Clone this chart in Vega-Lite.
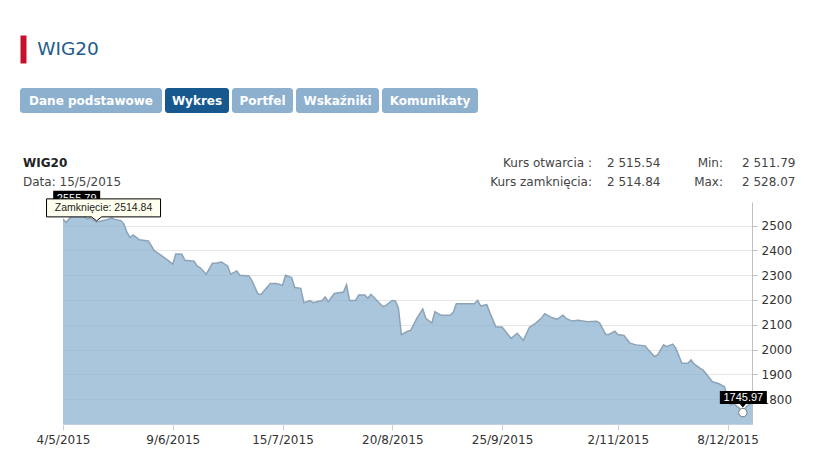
{
  "$schema": "https://vega.github.io/schema/vega-lite/v6.json",
  "padding": {"left": 20, "top": 35, "right": 0, "bottom": 0},
  "spacing": 0,
  "config": {"view": {"stroke": null}, "font": "DejaVu Sans"},
  "vconcat": [
    {
      "width": 96, "height": 53,
      "data": {"values": [{"row": "t", "name": "WIG20"}]},
      "mark": {"type": "text", "fontSize": 18.5, "color": "#245b8c", "baseline": "middle"},
      "encoding": {
        "y": {
          "field": "row", "type": "nominal",
          "scale": {"type": "band", "range": [0, 28]},
          "axis": {"orient": "left", "domainColor": "#c8102e", "domainWidth": 6, "domainCap": "butt", "offset": -3,
                   "labels": false, "ticks": false, "grid": false, "title": null}
        },
        "text": {"field": "name"}
      }
    },
    {
      "bounds": "flush",
      "spacing": 3,
      "hconcat": [
        {"width": 142, "height": 25, "view": {"fill": "#8db0cf", "cornerRadius": 3}, "data": {"values": [{"tab": "Dane podstawowe"}]},
         "mark": {"type": "text", "color": "white", "fontWeight": "bold", "fontSize": 12, "baseline": "middle"}, "encoding": {"text": {"field": "tab"}}},
        {"width": 64, "height": 25, "view": {"fill": "#17598f", "cornerRadius": 3}, "data": {"values": [{"tab": "Wykres"}]},
         "mark": {"type": "text", "color": "white", "fontWeight": "bold", "fontSize": 12, "baseline": "middle"}, "encoding": {"text": {"field": "tab"}}},
        {"width": 61, "height": 25, "view": {"fill": "#8db0cf", "cornerRadius": 3}, "data": {"values": [{"tab": "Portfel"}]},
         "mark": {"type": "text", "color": "white", "fontWeight": "bold", "fontSize": 12, "baseline": "middle"}, "encoding": {"text": {"field": "tab"}}},
        {"width": 83, "height": 25, "view": {"fill": "#8db0cf", "cornerRadius": 3}, "data": {"values": [{"tab": "Wskaźniki"}]},
         "mark": {"type": "text", "color": "white", "fontWeight": "bold", "fontSize": 12, "baseline": "middle"}, "encoding": {"text": {"field": "tab"}}},
        {"width": 96, "height": 25, "view": {"fill": "#8db0cf", "cornerRadius": 3}, "data": {"values": [{"tab": "Komunikaty"}]},
         "mark": {"type": "text", "color": "white", "fontWeight": "bold", "fontSize": 12, "baseline": "middle"}, "encoding": {"text": {"field": "tab"}}}
      ]
    },
    {
      "bounds": "flush",
      "spacing": 0,
      "hconcat": [
        {
          "width": 6, "height": 77,
          "layer": [
            {"data": {"values": [{"row": 1, "txt": "WIG20"}]},
             "mark": {"type": "text", "align": "left", "baseline": "middle", "fontWeight": "bold", "fontSize": 12, "color": "#222"},
             "encoding": {"y": {"field": "row", "type": "ordinal", "scale": {"type": "point", "padding": 0, "domain": [1, 2], "range": [50, 69]}, "axis": null}, "text": {"field": "txt"}}},
            {"data": {"values": [{"row": 2, "txt": "Data: 15/5/2015"}]},
             "mark": {"type": "text", "align": "left", "baseline": "middle", "fontSize": 12, "color": "#444"},
             "encoding": {"y": {"field": "row", "type": "ordinal", "scale": {"type": "point", "padding": 0, "domain": [1, 2], "range": [50, 69]}, "axis": null}, "text": {"field": "txt"}}}
          ]
        },
        {"width": 565, "height": 77, "data": {"values": [{}]}, "mark": {"type": "text", "text": ""}},
        {
          "width": 2, "height": 77,
          "data": {"values": [{"row": 1, "txt": "Kurs otwarcia :"}, {"row": 2, "txt": "Kurs zamknięcia:"}]},
          "mark": {"type": "text", "align": "right", "baseline": "middle", "fontSize": 12, "color": "#444"},
          "encoding": {"y": {"field": "row", "type": "ordinal", "scale": {"type": "point", "padding": 0, "domain": [1, 2], "range": [50, 69]}, "axis": null}, "text": {"field": "txt"}}
        },
        {"width": 13, "height": 77, "data": {"values": [{}]}, "mark": {"type": "text", "text": ""}},
        {
          "width": 2, "height": 77,
          "data": {"values": [{"row": 1, "txt": "2 515.54"}, {"row": 2, "txt": "2 514.84"}]},
          "mark": {"type": "text", "align": "left", "baseline": "middle", "fontSize": 12, "color": "#444"},
          "encoding": {"y": {"field": "row", "type": "ordinal", "scale": {"type": "point", "padding": 0, "domain": [1, 2], "range": [50, 69]}, "axis": null}, "text": {"field": "txt"}}
        },
        {"width": 114, "height": 77, "data": {"values": [{}]}, "mark": {"type": "text", "text": ""}},
        {
          "width": 2, "height": 77,
          "data": {"values": [{"row": 1, "txt": "Min:"}, {"row": 2, "txt": "Max:"}]},
          "mark": {"type": "text", "align": "right", "baseline": "middle", "fontSize": 12, "color": "#444"},
          "encoding": {"y": {"field": "row", "type": "ordinal", "scale": {"type": "point", "padding": 0, "domain": [1, 2], "range": [50, 69]}, "axis": null}, "text": {"field": "txt"}}
        },
        {"width": 17, "height": 77, "data": {"values": [{}]}, "mark": {"type": "text", "text": ""}},
        {
          "width": 2, "height": 77,
          "data": {"values": [{"row": 1, "txt": "2 511.79"}, {"row": 2, "txt": "2 528.07"}]},
          "mark": {"type": "text", "align": "left", "baseline": "middle", "fontSize": 12, "color": "#444"},
          "encoding": {"y": {"field": "row", "type": "ordinal", "scale": {"type": "point", "padding": 0, "domain": [1, 2], "range": [50, 69]}, "axis": null}, "text": {"field": "txt"}}
        }
      ]
    },
    {
      "bounds": "flush",
      "spacing": 0,
      "hconcat": [
        {"width": 43, "height": 222, "data": {"values": [{}]}, "mark": {"type": "text", "text": ""}},
        {
          "width": 689,
          "height": 222,
          "encoding": {
            "x": {
              "field": "date", "type": "temporal",
              "scale": {"domain": [{"year": 2015, "month": 5, "date": 4}, {"year": 2015, "month": 12, "date": 16}], "nice": false},
              "axis": {
                "title": null, "grid": false,
                "values": [
                  {"year": 2015, "month": 5, "date": 4}, {"year": 2015, "month": 6, "date": 9}, {"year": 2015, "month": 7, "date": 15},
                  {"year": 2015, "month": 8, "date": 20}, {"year": 2015, "month": 9, "date": 25}, {"year": 2015, "month": 11, "date": 2},
                  {"year": 2015, "month": 12, "date": 8}
                ],
                "format": "%-d/%-m/%Y", "labelFlush": false, "labelOverlap": false,
                "labelFontSize": 12, "labelColor": "#333", "labelPadding": 4,
                "tickColor": "#c0d0e0", "tickSize": 6, "domainColor": "#c0d0e0"
              }
            },
            "y": {
              "field": "close", "type": "quantitative",
              "scale": {"domain": [1700, 2595], "zero": false, "nice": false},
              "axis": {
                "orient": "right", "title": null,
                "values": [1800, 1900, 2000, 2100, 2200, 2300, 2400, 2500], "format": "d", "labelOverlap": false,
                "gridColor": "#e6e6e6", "domainColor": "#c0c0c0", "tickColor": "#c0c0c0", "tickSize": 5,
                "labelPadding": 4, "labelFontSize": 12, "labelColor": "#333"
              }
            }
          },
          "layer": [
            {
              "data": {"values": [
                {"date": "2015/05/04", "close": 2526}, {"date": "2015/05/05", "close": 2512}, {"date": "2015/05/06", "close": 2526},
                {"date": "2015/05/07", "close": 2540}, {"date": "2015/05/08", "close": 2555.79}, {"date": "2015/05/11", "close": 2536},
                {"date": "2015/05/12", "close": 2527}, {"date": "2015/05/13", "close": 2531}, {"date": "2015/05/14", "close": 2521},
                {"date": "2015/05/15", "close": 2514.84}, {"date": "2015/05/18", "close": 2522}, {"date": "2015/05/20", "close": 2530},
                {"date": "2015/05/21", "close": 2525}, {"date": "2015/05/23", "close": 2520}, {"date": "2015/05/24", "close": 2506},
                {"date": "2015/05/25", "close": 2472}, {"date": "2015/05/26", "close": 2452}, {"date": "2015/05/27", "close": 2462},
                {"date": "2015/05/29", "close": 2443}, {"date": "2015/06/01", "close": 2438}, {"date": "2015/06/03", "close": 2398},
                {"date": "2015/06/05", "close": 2382}, {"date": "2015/06/07", "close": 2364}, {"date": "2015/06/09", "close": 2345},
                {"date": "2015/06/10", "close": 2385}, {"date": "2015/06/12", "close": 2384}, {"date": "2015/06/13", "close": 2360},
                {"date": "2015/06/16", "close": 2356}, {"date": "2015/06/17", "close": 2337}, {"date": "2015/06/18", "close": 2330},
                {"date": "2015/06/20", "close": 2304}, {"date": "2015/06/22", "close": 2348}, {"date": "2015/06/23", "close": 2348},
                {"date": "2015/06/25", "close": 2353}, {"date": "2015/06/27", "close": 2337}, {"date": "2015/06/28", "close": 2304},
                {"date": "2015/06/30", "close": 2317}, {"date": "2015/07/01", "close": 2300}, {"date": "2015/07/04", "close": 2297},
                {"date": "2015/07/05", "close": 2277}, {"date": "2015/07/07", "close": 2223}, {"date": "2015/07/08", "close": 2223},
                {"date": "2015/07/11", "close": 2266}, {"date": "2015/07/13", "close": 2266}, {"date": "2015/07/15", "close": 2259},
                {"date": "2015/07/16", "close": 2300}, {"date": "2015/07/18", "close": 2290}, {"date": "2015/07/19", "close": 2250},
                {"date": "2015/07/21", "close": 2247}, {"date": "2015/07/22", "close": 2189}, {"date": "2015/07/24", "close": 2198},
                {"date": "2015/07/25", "close": 2189}, {"date": "2015/07/28", "close": 2198}, {"date": "2015/07/29", "close": 2212},
                {"date": "2015/07/30", "close": 2193}, {"date": "2015/08/01", "close": 2226}, {"date": "2015/08/04", "close": 2232},
                {"date": "2015/08/05", "close": 2261}, {"date": "2015/08/06", "close": 2198}, {"date": "2015/08/08", "close": 2198},
                {"date": "2015/08/09", "close": 2220}, {"date": "2015/08/11", "close": 2220}, {"date": "2015/08/12", "close": 2207},
                {"date": "2015/08/13", "close": 2223}, {"date": "2015/08/16", "close": 2185}, {"date": "2015/08/17", "close": 2173},
                {"date": "2015/08/18", "close": 2179}, {"date": "2015/08/20", "close": 2198}, {"date": "2015/08/21", "close": 2196},
                {"date": "2015/08/22", "close": 2169}, {"date": "2015/08/23", "close": 2060}, {"date": "2015/08/25", "close": 2074},
                {"date": "2015/08/26", "close": 2077}, {"date": "2015/08/28", "close": 2125}, {"date": "2015/08/30", "close": 2164},
                {"date": "2015/08/31", "close": 2126}, {"date": "2015/09/02", "close": 2107}, {"date": "2015/09/03", "close": 2153},
                {"date": "2015/09/05", "close": 2138}, {"date": "2015/09/08", "close": 2138}, {"date": "2015/09/09", "close": 2150},
                {"date": "2015/09/10", "close": 2185}, {"date": "2015/09/16", "close": 2185}, {"date": "2015/09/17", "close": 2199},
                {"date": "2015/09/18", "close": 2176}, {"date": "2015/09/20", "close": 2181}, {"date": "2015/09/21", "close": 2149},
                {"date": "2015/09/23", "close": 2091}, {"date": "2015/09/25", "close": 2091}, {"date": "2015/09/28", "close": 2045},
                {"date": "2015/09/30", "close": 2066}, {"date": "2015/10/02", "close": 2037}, {"date": "2015/10/04", "close": 2090},
                {"date": "2015/10/06", "close": 2106}, {"date": "2015/10/08", "close": 2128}, {"date": "2015/10/09", "close": 2145},
                {"date": "2015/10/11", "close": 2131}, {"date": "2015/10/13", "close": 2122}, {"date": "2015/10/15", "close": 2139},
                {"date": "2015/10/16", "close": 2126}, {"date": "2015/10/18", "close": 2115}, {"date": "2015/10/20", "close": 2118},
                {"date": "2015/10/23", "close": 2112}, {"date": "2015/10/26", "close": 2114}, {"date": "2015/10/27", "close": 2108},
                {"date": "2015/10/29", "close": 2061}, {"date": "2015/10/30", "close": 2061}, {"date": "2015/11/01", "close": 2074},
                {"date": "2015/11/02", "close": 2061}, {"date": "2015/11/04", "close": 2057}, {"date": "2015/11/06", "close": 2026},
                {"date": "2015/11/08", "close": 2019}, {"date": "2015/11/11", "close": 2015}, {"date": "2015/11/12", "close": 1999},
                {"date": "2015/11/14", "close": 1972}, {"date": "2015/11/15", "close": 1978}, {"date": "2015/11/17", "close": 2019},
                {"date": "2015/11/18", "close": 2012}, {"date": "2015/11/20", "close": 2022}, {"date": "2015/11/21", "close": 2006},
                {"date": "2015/11/23", "close": 1945}, {"date": "2015/11/25", "close": 1945}, {"date": "2015/11/26", "close": 1958},
                {"date": "2015/11/27", "close": 1942}, {"date": "2015/11/29", "close": 1924}, {"date": "2015/11/30", "close": 1917},
                {"date": "2015/12/03", "close": 1870}, {"date": "2015/12/05", "close": 1863}, {"date": "2015/12/07", "close": 1850},
                {"date": "2015/12/08", "close": 1802}, {"date": "2015/12/09", "close": 1775}, {"date": "2015/12/10", "close": 1782},
                {"date": "2015/12/12", "close": 1761}, {"date": "2015/12/13", "close": 1745.97}, {"date": "2015/12/14", "close": 1768},
                {"date": "2015/12/16", "close": 1789}
              ]},
              "mark": {"type": "area", "clip": true, "color": "#8cb3d0", "fillOpacity": 0.75, "line": {"color": "#8ea3b5", "strokeWidth": 1.5}}
            },
            {
              "data": {"values": [{"date": "2015/05/08", "close": 2555.79, "label": "2555.79"}]},
              "layer": [
                {"mark": {"type": "point", "shape": "M-0.22,-0.21H0.25V-0.05H-0.22Z", "size": 40000, "filled": true, "color": "#000", "opacity": 1}},
                {"mark": {"type": "text", "color": "white", "font": "Liberation Sans", "fontSize": 11, "dx": 1.5, "dy": -13}, "encoding": {"text": {"field": "label"}}}
              ]
            },
            {
              "data": {"values": [{"date": "2015/05/15", "close": 2514.84, "label": "Zamknięcie: 2514.84"}]},
              "layer": [
                {"mark": {"type": "point", "shape": "M-0.5,-0.23H0.64V-0.05H0.05L0,-0.01L-0.05,-0.05H-0.5Z", "size": 40000, "filled": true, "fill": "#fffff0", "stroke": "#000", "strokeWidth": 1, "opacity": 1}},
                {"mark": {"type": "text", "color": "#222", "font": "Liberation Sans Narrow, Liberation Sans", "fontSize": 10.5, "dx": 7, "dy": -14}, "encoding": {"text": {"field": "label"}}}
              ]
            },
            {
              "data": {"values": [{"date": "2015/12/13", "close": 1745.97, "label": "1745.97"}]},
              "layer": [
                {"mark": {"type": "point", "shape": "circle", "size": 70, "filled": true, "fill": "white", "stroke": "#777", "strokeWidth": 1, "opacity": 1}},
                {"mark": {"type": "point", "shape": "M-0.23,-0.215H0.24V-0.085H0.03L0,-0.05L-0.03,-0.085H-0.23Z", "size": 40000, "filled": true, "color": "#000", "opacity": 1}},
                {"mark": {"type": "text", "color": "white", "font": "Liberation Sans", "fontSize": 11, "dx": 0.5, "dy": -15}, "encoding": {"text": {"field": "label"}}}
              ]
            }
          ]
        }
      ]
    }
  ]
}
